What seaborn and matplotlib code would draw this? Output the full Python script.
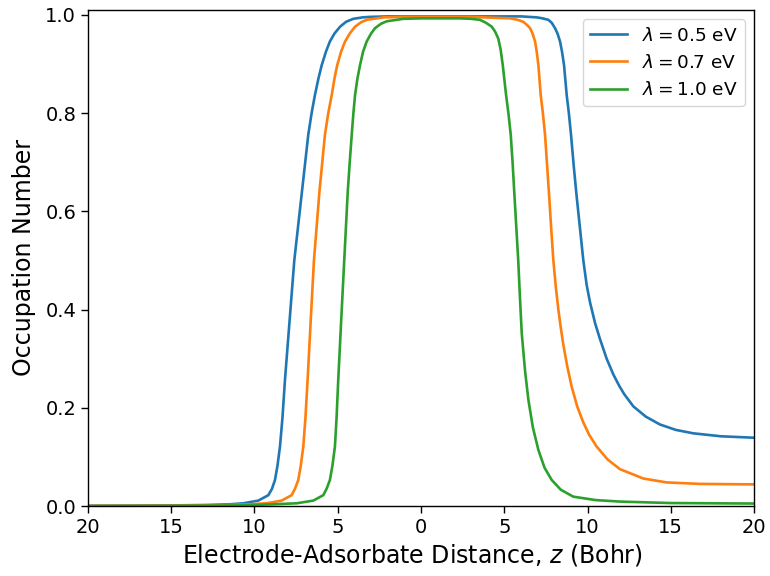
import matplotlib
matplotlib.use("Agg")
import matplotlib.pyplot as plt
import seaborn as sns
import pandas as pd

# ---- data ----
z_05 = [-20, -16, -13, -11.47, -10.67, -9.77, -9.17, -8.95, -8.77, -8.62, -8.47, -8.32, -8.17,
        -7.9, -7.61, -7.2, -6.77, -6.57, -6.37, -6.15, -5.96, -5.7, -5.47, -5.2, -4.86, -4.5,
        -4.07, -3.5, -3.06, -2.0, 0, 3, 6.0, 6.95, 7.3, 7.65, 7.85, 8.05, 8.2, 8.35, 8.47, 8.59,
        8.75, 8.88, 9.01, 9.18, 9.35, 9.55, 9.75, 9.95, 10.15, 10.45, 10.75, 11.15, 11.55, 11.9,
        12.2, 12.75, 13.5, 14.35, 15.3, 16.35, 18, 20]
n_05 = [0.0003, 0.0008, 0.002, 0.0035, 0.0055, 0.011, 0.022, 0.035, 0.053, 0.082, 0.121, 0.18,
        0.257, 0.374, 0.50, 0.625, 0.756, 0.80, 0.837, 0.872, 0.898, 0.926, 0.946, 0.962, 0.976,
        0.986, 0.992, 0.995, 0.996, 0.997, 0.997, 0.997, 0.997, 0.995, 0.993, 0.99, 0.984, 0.973,
        0.962, 0.946, 0.925, 0.898, 0.837, 0.80, 0.756, 0.69, 0.63, 0.565, 0.50, 0.45, 0.415,
        0.373, 0.34, 0.30, 0.268, 0.245, 0.228, 0.203, 0.182, 0.166, 0.155, 0.148, 0.142, 0.139]

z_07 = [-20, -15, -12, -10.27, -9.27, -8.37, -7.77, -7.57, -7.37, -7.22, -7.07, -6.94, -6.81,
        -6.62, -6.43, -6.1, -5.77, -5.57, -5.36, -5.2, -5.03, -4.8, -4.56, -4.26, -3.96, -3.6,
        -3.26, -2.26, -1.0, 0, 3, 5.35, 5.8, 6.14, 6.35, 6.55, 6.7, 6.85, 6.95, 7.05, 7.19, 7.32,
        7.45, 7.7, 7.82, 7.95, 8.1, 8.25, 8.4, 8.55, 8.78, 9.05, 9.38, 9.75, 10.1, 10.55, 11.2,
        11.95, 13.35, 14.75, 16.75, 20]
n_07 = [0.0002, 0.0006, 0.0015, 0.0035, 0.0055, 0.011, 0.022, 0.035, 0.053, 0.082, 0.121, 0.18,
        0.257, 0.38, 0.50, 0.64, 0.756, 0.80, 0.837, 0.87, 0.898, 0.925, 0.946, 0.963, 0.976,
        0.985, 0.99, 0.995, 0.996, 0.996, 0.996, 0.993, 0.99, 0.986, 0.98, 0.973, 0.962, 0.946,
        0.925, 0.898, 0.837, 0.80, 0.756, 0.63, 0.565, 0.50, 0.445, 0.40, 0.362, 0.328, 0.285,
        0.243, 0.203, 0.17, 0.145, 0.121, 0.095, 0.075, 0.056, 0.048, 0.045, 0.044]

z_10 = [-20, -15, -11, -8.87, -7.47, -6.47, -5.87, -5.67, -5.47, -5.32, -5.17, -5.07, -4.97,
        -4.79, -4.61, -4.4, -4.28, -4.16, -4.06, -3.96, -3.82, -3.66, -3.48, -3.26, -3.0, -2.76,
        -2.4, -2.06, -1.06, 0, 1.5, 2.34, 3.0, 3.54, 3.9, 4.25, 4.45, 4.64, 4.78, 4.91, 5.11,
        5.25, 5.39, 5.5, 5.6, 5.72, 5.84, 5.95, 6.05, 6.25, 6.45, 6.72, 7.05, 7.42, 7.85, 8.4,
        9.15, 10.5, 11.95, 15, 20]
n_10 = [0.0001, 0.0004, 0.0012, 0.0035, 0.0055, 0.011, 0.022, 0.035, 0.053, 0.082, 0.121, 0.18,
        0.257, 0.38, 0.50, 0.64, 0.70, 0.756, 0.80, 0.837, 0.87, 0.898, 0.925, 0.946, 0.962,
        0.973, 0.982, 0.987, 0.992, 0.993, 0.993, 0.993, 0.992, 0.99, 0.984, 0.976, 0.966, 0.952,
        0.93, 0.898, 0.837, 0.80, 0.756, 0.70, 0.64, 0.57, 0.50, 0.42, 0.352, 0.275, 0.216, 0.16,
        0.114, 0.078, 0.053, 0.033, 0.019, 0.012, 0.009, 0.006, 0.005]

labels = [r"$\lambda = 0.5$ eV", r"$\lambda = 0.7$ eV", r"$\lambda = 1.0$ eV"]
colors = ["#1f77b4", "#ff7f0e", "#2ca02c"]

x_ticks = [-20, -15, -10, -5, 0, 5, 10, 15, 20]
x_tick_labels = ["20", "15", "10", "5", "0", "5", "10", "15", "20"]
y_ticks = [0.0, 0.2, 0.4, 0.6, 0.8, 1.0]

series = [(z_05, n_05), (z_07, n_07), (z_10, n_10)]

fig = plt.figure(figsize=(7.70, 5.76), dpi=100)
ax = fig.add_axes([88 / 770, 1 - 506 / 576, (754 - 88) / 770, (506 - 10) / 576])

for (zz, nn), lab, col in zip(series, labels, colors):
    df = pd.DataFrame({"z": zz, "n": nn})
    sns.lineplot(data=df, x="z", y="n", ax=ax, color=col, label=lab,
                 estimator=None, sort=True, linewidth=1.9)

ax.set_xlim(-20, 20)
ax.set_ylim(0, 1.01)
ax.set_xticks(x_ticks)
ax.set_xticklabels(x_tick_labels)
ax.set_yticks(y_ticks)
ax.set_yticklabels([f"{v:.1f}" for v in y_ticks])
ax.tick_params(labelsize=14, length=5, width=1)
ax.set_xlabel(r"Electrode-Adsorbate Distance, $z$ (Bohr)", fontsize=17)
ax.xaxis.label.set_x(0.487)
ax.set_ylabel("Occupation Number", fontsize=17, labelpad=7)
for s in ax.spines.values():
    s.set_linewidth(1.0)
ax.legend(loc="upper right", fontsize=13.3)

fig.savefig("out.png", dpi=100)
